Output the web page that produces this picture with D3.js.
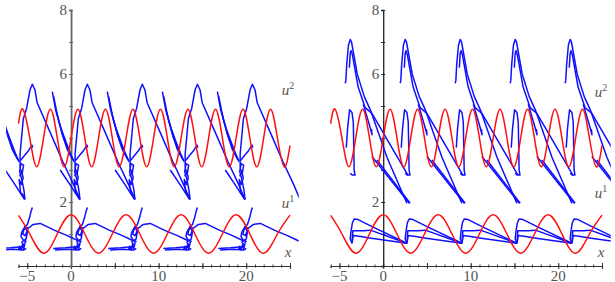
<!DOCTYPE html>
<html><head><meta charset="utf-8">
<script src="https://cdn.jsdelivr.net/npm/d3@7"></script>
<style>
html,body{margin:0;padding:0;background:#fff;}
svg{display:block;}
</style></head>
<body><svg id="c" width="615" height="282"></svg>
<script>
// ---------- data ----------
const xDomain = [-6, 25];
const yDomain = [0, 8];
const xTickLabels = [-5, 0, 10, 20];
const yTickLabels = [2, 6, 8];
const xMinorTicks = d3.range(-6, 26, 1);
const xMajorTicks = [-5, 0, 5, 10, 15, 20, 25];
const yMinorTicks = [1, 2, 3, 4, 5, 6, 7, 8];
const curveLabels = ["u2", "u1", "x"];

// red curves: points read at peaks / troughs / mid-levels
const redUpperX = [-6.0,-5.498,-4.712,-3.927,-3.142,-2.356,-1.571,-0.785,0,0.785,1.571,2.356,3.142,3.927,4.712,5.498,6.283,7.069,7.854,8.639,9.425,10.21,10.996,11.781,12.566,13.352,14.137,14.923,15.708,16.493,17.279,18.064,18.85,19.635,20.42,21.206,21.991,22.777,23.562,24.347,25.0];
const redUpperY = [4.45,4.9,4.0,3.1,4.0,4.9,4.0,3.1,4.0,4.9,4.0,3.1,4.0,4.9,4.0,3.1,4.0,4.9,4.0,3.1,4.0,4.9,4.0,3.1,4.0,4.9,4.0,3.1,4.0,4.9,4.0,3.1,4.0,4.9,4.0,3.1,4.0,4.9,4.0,3.1,3.76];
const redLowerX = [-6.0,-4.712,-3.142,-1.571,0,1.571,3.142,4.712,6.283,7.854,9.425,10.996,12.566,14.137,15.708,17.279,18.85,20.42,21.991,23.562,25.0];
const redLowerY = [1.58,1.0,0.4,1.0,1.6,1.0,0.4,1.0,1.6,1.0,0.4,1.0,1.6,1.0,0.4,1.0,1.6,1.0,0.4,1.0,1.59];

// blue trajectories: one traced period (x relative to its anchor), repeated at each anchor
const leftAnchors = [-4.42, 1.86, 8.14, 14.43, 20.71];
const rightAnchors = [-3.77, 2.51, 8.8, 15.08, 21.36];

const leftUpperStrokes = [
  [[-0.85,2.08],[-0.95,2.35],[-1.2,2.7],[-1.45,2.95],[-1.3,3.2],[-1.0,3.15],[-1.15,2.9],[-1.4,3.05],[-1.4,3.5],[-1.03,4.6],[-0.65,4.93],[-0.27,5.5],[0,5.68],[0.3,5.5],[0.55,5.1],[2.0,4.2],[3.5,3.25],[4.7,2.55],[5.43,2.08]],
  [[-4.0,5.45],[-3.6,4.85],[-3.0,4.3],[-2.4,3.85],[-1.9,3.5],[-1.5,3.25]],
  [[-3.85,5.3],[-3.3,4.55],[-2.7,4.0],[-2.1,3.55],[-1.6,3.3]],
  [[-3.5,4.8],[-2.9,4.15],[-2.3,3.65],[-1.7,3.35]],
  [[-1.35,3.3],[-0.9,3.45],[-0.4,3.62],[-0.05,3.78],[0.05,3.7]],
  [[-1.45,2.8],[-1.2,2.95],[-1.05,2.75],[-1.25,2.55],[-1.5,2.7],[-1.35,2.3],[-1.0,2.2],[-0.85,2.08]],
  [[-3.1,3.0],[-2.0,2.55],[-0.9,2.08]]
];
const leftLowerStrokes = [
  [[0,1.83],[-0.15,1.7],[-0.34,1.49],[-0.57,1.3],[-0.95,1.18],[-1.22,1.05],[-1.3,0.92],[-1.03,0.81],[-0.65,0.76]],
  [[-0.9,1.25],[-0.6,1.1],[-0.8,0.95],[-1.1,1.0],[-0.95,1.15],[-0.5,1.2],[-0.7,0.85],[-1.2,0.75],[-0.9,0.62]],
  [[-0.46,1.18],[0.11,1.3],[0.9,1.33],[2.5,1.12],[4.0,0.95],[5.0,0.82],[5.3,0.78]],
  [[-3.9,0.55],[-2.5,0.57],[-1.2,0.6],[-0.9,0.66]],
  [[-3.7,0.5],[-2.2,0.52],[-1.0,0.5],[-0.7,0.55]],
  [[-1.6,0.5],[-1.45,0.62],[-1.3,0.5],[-1.15,0.66],[-1.0,0.52],[-0.85,0.7],[-0.8,0.8]]
];
const rightUpperStrokes = [
  [[-0.57,5.71],[-0.5,5.8],[-0.4,6.3],[-0.2,6.9],[0,7.08],[0.15,7.0],[0.8,6.0],[1.6,5.3],[2.3,4.88],[4.2,3.4],[6.47,1.96]],
  [[-0.1,6.2],[0.0,6.65],[0.1,6.73],[0.25,6.6],[0.9,5.6],[1.7,4.95],[2.48,4.77],[6.59,2.84]],
  [[1.5,5.05],[2.2,4.4],[2.5,4.1],[2.42,4.28]],
  [[-0.45,3.7],[-0.3,4.3],[-0.07,4.88],[0.2,4.8],[0.35,4.5],[0.4,3.8],[0.45,3.0],[0.55,2.84],[0.25,2.84],[0.0,2.9]],
  [[2.48,3.42],[6.75,1.96]],
  [[3.05,3.31],[6.85,1.96]]
];
const rightLowerStrokes = [
  [[0.2,0.71],[0.0,0.85],[0.1,1.1],[0.25,1.35],[0.45,1.47],[0.9,1.45],[2.5,1.23],[6.47,0.71]],
  [[0.2,0.71],[0.3,1.1],[1.5,1.1],[2.3,1.12],[6.47,0.71]],
  [[0.2,0.71],[0.35,0.95],[1.2,0.92],[2.4,0.87],[6.47,0.71]]
];

// ---------- drawing ----------
const FONT = "'Liberation Serif','DejaVu Serif',serif";
const svg = d3.select("#c");
const panels = [
  {x0: 18.5, x1: 290, anchors: leftAnchors, upper: leftUpperStrokes, lower: leftLowerStrokes,
   axisColor: "#666", yAxisWidth: 1.8, clipX: -7.4, labelX: 288, labelY: [95, 208, 257]},
  {x0: 330.7, x1: 602, anchors: rightAnchors, upper: rightUpperStrokes, lower: rightLowerStrokes,
   axisColor: "#222", yAxisWidth: 1.3, clipX: -7.7, labelX: 601, labelY: [97, 198, 257]}
];
const yTop = 10, yBot = 266;

panels.forEach((p, pi) => {
  const x = d3.scaleLinear().domain(xDomain).range([p.x0, p.x1]);
  const y = d3.scaleLinear().domain(yDomain).range([yBot, yTop]);
  const g = svg.append("g");
  const clipId = "clip" + pi;
  svg.append("clipPath").attr("id", clipId).append("rect")
    .attr("x", x(p.clipX)).attr("y", 0).attr("width", x(26) - x(p.clipX)).attr("height", 282);

  // axes
  g.append("g").attr("transform", `translate(0,${y(0)})`)
    .call(d3.axisBottom(x).tickValues(xMinorTicks).tickSize(2).tickFormat(""))
    .call(a => a.select(".domain").attr("stroke", "#333").attr("stroke-width", 1.2))
    .call(a => a.selectAll(".tick line").attr("stroke", "#333").attr("y1", -1.5).attr("y2", 1.5));
  g.append("g").attr("transform", `translate(0,${y(0)})`)
    .call(d3.axisBottom(x).tickValues(xMajorTicks).tickSize(3).tickFormat(""))
    .call(a => a.select(".domain").remove())
    .call(a => a.selectAll(".tick line").attr("stroke", "#333").attr("y1", -3).attr("y2", 3));
  g.append("g").selectAll("text").data(xTickLabels).join("text")
    .attr("x", d => x(d)).attr("y", 280.5).attr("text-anchor", "middle")
    .attr("font-family", FONT).attr("fill", "#555")
    .attr("font-size", 15).text(d => d < 0 ? "\u2212" + Math.abs(d) : d);

  g.append("g").attr("transform", `translate(${x(0)},0)`)
    .call(d3.axisLeft(y).tickValues(yMinorTicks).tickSize(2).tickFormat(""))
    .call(a => a.select(".domain").attr("stroke", p.axisColor).attr("stroke-width", p.yAxisWidth))
    .call(a => a.selectAll(".tick line").attr("stroke", p.axisColor).attr("x1", -2).attr("x2", 2));
  g.append("g").selectAll("text").data(yTickLabels).join("text")
    .attr("x", x(0) - 4).attr("y", d => y(d) + 5).attr("text-anchor", "end")
    .attr("font-family", FONT).attr("fill", "#555")
    .attr("font-size", 15).text(d => d);

  // blue
  const line = d3.line().x(d => x(d[0])).y(d => y(d[1]));
  const blue = g.append("g").attr("clip-path", `url(#${clipId})`);
  p.anchors.forEach(a => {
    [...p.upper, ...p.lower].forEach(s => {
      blue.append("path").attr("d", line(s.map(q => [q[0] + a, q[1]])))
        .attr("fill", "none").attr("stroke", "#1010ff").attr("stroke-width", 1.5)
        .attr("stroke-linejoin", "round");
    });
  });

  // red
  const smooth = d3.line().x(d => x(d[0])).y(d => y(d[1])).curve(d3.curveNatural);
  g.append("path").attr("d", smooth(redUpperX.map((v, i) => [v, redUpperY[i]])))
    .attr("fill", "none").attr("stroke", "#ff1010").attr("stroke-width", 1.5);
  g.append("path").attr("d", smooth(redLowerX.map((v, i) => [v, redLowerY[i]])))
    .attr("fill", "none").attr("stroke", "#ff1010").attr("stroke-width", 1.5);

  // curve labels
  const lab = g.append("g").attr("font-style", "italic").attr("font-size", 15)
    .attr("font-family", FONT).attr("fill", "#555");
  curveLabels.forEach((c, i) => {
    const t = lab.append("text").attr("x", p.labelX).attr("y", p.labelY[i]).attr("text-anchor", "middle");
    t.append("tspan").text(c[0]);
    if (c.length > 1) {
      t.append("tspan").attr("dy", -6).attr("font-size", 10).attr("font-style", "normal").text(c.slice(1));
    }
  });
});
</script></body></html>
